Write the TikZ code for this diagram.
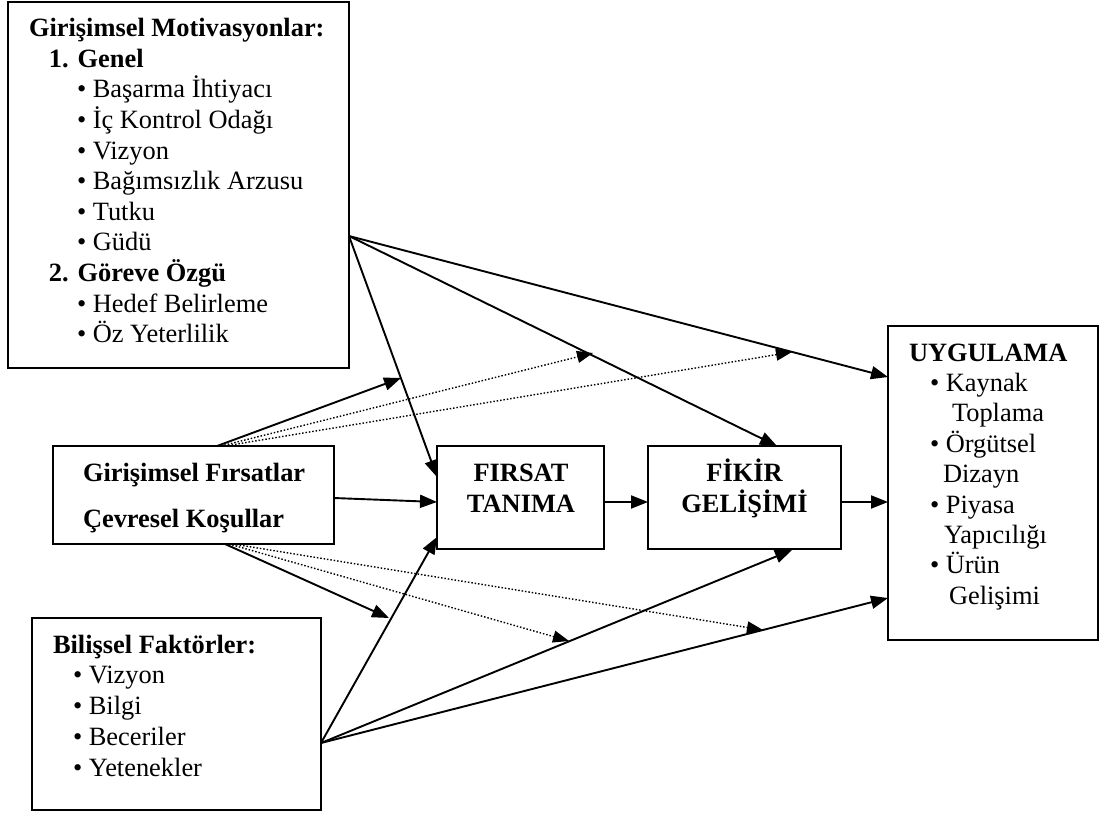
\documentclass[tikz,border=0pt]{standalone}
\usepackage{fontspec}
\setmainfont{Liberation Serif}
\usetikzlibrary{arrows.meta}
\newcommand\lstack[1]{\vtop{\halign{##\hfil\cr#1\crcr}}}
\newcommand\cstack[1]{\vtop{\halign{\hfil##\hfil\cr#1\crcr}}}
\tikzset{
  box/.style={draw, line width=2.4pt, inner sep=0pt, outer sep=0pt},
  txt/.style={inner sep=0pt, outer sep=0pt, anchor=base west},
  ctxt/.style={inner sep=0pt, outer sep=0pt, anchor=base},
  arr/.style={line width=1.9pt, -{Triangle[length=17pt,width=13pt]}},
  dotarr/.style={line width=1.4pt, dash pattern=on 1.5pt off 1.9pt, -{Triangle[length=16pt,width=12pt]}}
}
\begin{document}
\begin{tikzpicture}[x=1pt,y=-1pt]
\useasboundingbox (0,0) rectangle (1101,812);
% boxes
\node[box, minimum width=341pt, minimum height=366pt] (mot) at (178.5,185) {};
\node[box, minimum width=281pt, minimum height=98pt] (fir) at (193.5,495) {};
\node[box, minimum width=289pt, minimum height=192pt] (bil) at (176.5,714) {};
\node[box, minimum width=167pt, minimum height=103pt] (ft) at (520.5,497.5) {};
\node[box, minimum width=193pt, minimum height=103pt] (fg) at (744.5,497.5) {};
\node[box, minimum width=210pt, minimum height=314pt] (uy) at (993,483) {};
% texts
\node[txt, font=\fontsize{26.4}{30.6}\selectfont] (motT) at (29,36.7) {\lstack{%
\textbf{Girişimsel Motivasyonlar:}\cr
\hspace*{20pt}\textbf{1. Genel}\cr
\hspace*{48pt}• Başarma İhtiyacı\cr
\hspace*{48pt}• İç Kontrol Odağı\cr
\hspace*{48pt}• Vizyon\cr
\hspace*{48pt}• Bağımsızlık Arzusu\cr
\hspace*{48pt}• Tutku\cr
\hspace*{48pt}• Güdü\cr
\hspace*{20pt}\textbf{2. Göreve Özgü}\cr
\hspace*{48pt}• Hedef Belirleme\cr
\hspace*{48pt}• Öz Yeterlilik}};
\node[txt, font=\fontsize{26.4}{46}\selectfont] (firT) at (83,481) {\lstack{%
\textbf{Girişimsel Fırsatlar}\cr
\textbf{Çevresel Koşullar}}};
\node[txt, font=\fontsize{26.4}{30.8}\selectfont] (bilT) at (53,653) {\lstack{%
\textbf{Bilişsel Faktörler:}\cr
\hspace*{20pt}• Vizyon\cr
\hspace*{20pt}• Bilgi\cr
\hspace*{20pt}• Beceriler\cr
\hspace*{20pt}• Yetenekler}};
\node[ctxt, font=\fontsize{26.4}{31}\selectfont\bfseries] (ftT) at (521,481) {\cstack{FIRSAT\cr TANIMA}};
\node[ctxt, font=\fontsize{26.4}{31}\selectfont\bfseries] (fgT) at (744.5,481) {\cstack{FİKİR\cr GELİŞİMİ}};
\node[txt, font=\fontsize{26.4}{30.4}\selectfont] (uyT) at (909,361) {\lstack{%
\textbf{UYGULAMA}\cr
\hspace*{21pt}• Kaynak\cr
\hspace*{43pt}Toplama\cr
\hspace*{21pt}• Örgütsel\cr
\hspace*{34pt}Dizayn\cr
\hspace*{21pt}• Piyasa\cr
\hspace*{35pt}Yapıcılığı\cr
\hspace*{21pt}• Ürün\cr
\hspace*{40pt}Gelişimi}};
% connector end points
\coordinate (mA) at (349,236);
\coordinate (bA) at (321,743);
\coordinate (fT1) at (217,446);
\coordinate (fT2) at (221,446);
\coordinate (fT3) at (225,446);
\coordinate (fB1) at (225,544);
\coordinate (fB2) at (229,544);
\coordinate (fB3) at (233,544);
\coordinate (uy1) at (888,377);
\coordinate (uy2) at (888,502);
\coordinate (uy3) at (888,598);
\coordinate (fg1) at (777,446);
\coordinate (fg2) at (792,550);
\coordinate (fgW) at (648,502);
\coordinate (fgE) at (841,502);
\coordinate (ft1) at (437,477);
\coordinate (ft2) at (437,502);
\coordinate (ft3) at (437,537);
\coordinate (ftE) at (604,502);
\coordinate (firE) at (334,498);
\coordinate (m3) at (401,378);
\coordinate (m2) at (593,353);
\coordinate (m1) at (792,352);
\coordinate (g1) at (389,618);
\coordinate (g2) at (569,641);
\coordinate (g3) at (763,630);
% arrows from motivations
\draw[arr] (mA) -- (uy1);
\draw[arr] (mA) -- (fg1);
\draw[arr] (mA) -- (ft1);
% arrows from opportunities
\draw[arr] (fT1) -- (m3);
\draw[dotarr] (fT2) -- (m2);
\draw[dotarr] (fT3) -- (m1);
\draw[arr] (firE) -- (ft2);
\draw[arr] (fB1) -- (g1);
\draw[dotarr] (fB2) -- (g2);
\draw[dotarr] (fB3) -- (g3);
% main chain
\draw[arr] (ftE) -- (fgW);
\draw[arr] (fgE) -- (uy2);
% arrows from cognitive factors
\draw[arr] (bA) -- (ft3);
\draw[arr] (bA) -- (fg2);
\draw[arr] (bA) -- (uy3);
\end{tikzpicture}
\end{document}
